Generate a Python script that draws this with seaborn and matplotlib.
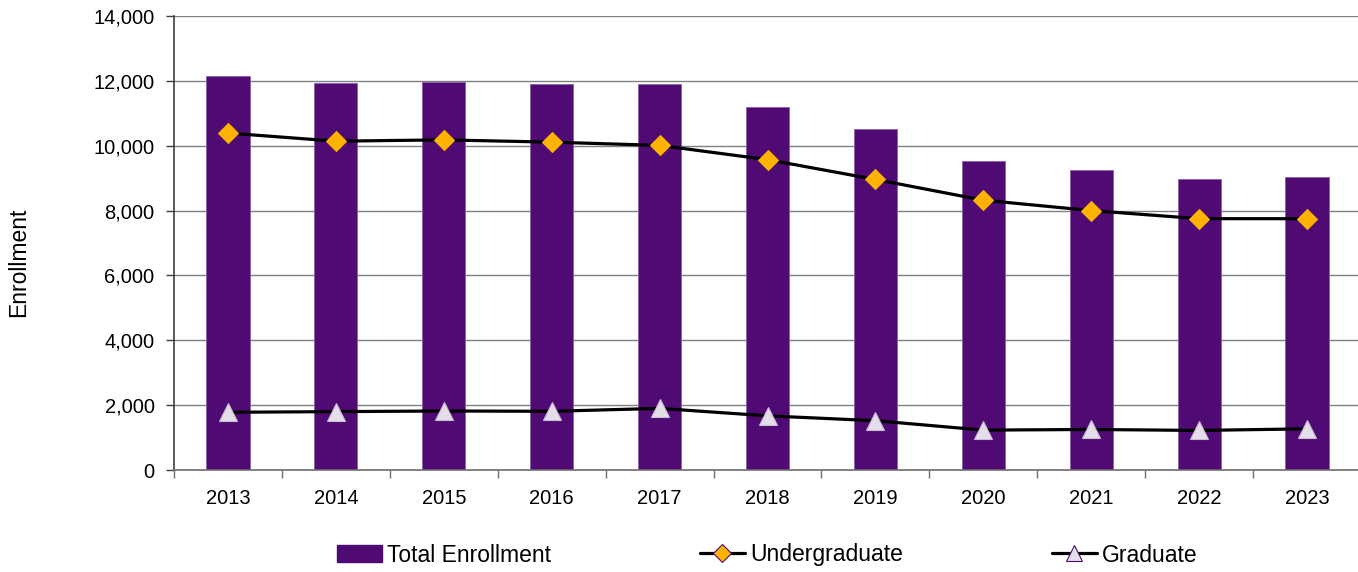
import numpy as np
import pandas as pd
import matplotlib
matplotlib.use("Agg")
import matplotlib.pyplot as plt
import seaborn as sns
from matplotlib.ticker import FuncFormatter, FixedLocator
from matplotlib.lines import Line2D
from matplotlib.patches import Patch

# data
years = ['2013', '2014', '2015', '2016', '2017', '2018', '2019', '2020', '2021', '2022', '2023']
total = [12160, 11925, 11970, 11900, 11900, 11200, 10500, 9520, 9240, 8960, 9030]
undergrad = [10390, 10140, 10180, 10110, 10010, 9570, 8960, 8320, 8000, 7750, 7750]
graduate = [1780, 1800, 1820, 1810, 1900, 1670, 1520, 1230, 1250, 1220, 1270]

purple = '#500A73'
gold = '#FFB300'
lilac = '#E4DEE8'

sns.set_style('white')
plt.rcParams['font.family'] = ['Liberation Sans', 'DejaVu Sans']
plt.rcParams['text.color'] = 'black'
plt.rcParams['axes.labelcolor'] = 'black'
plt.rcParams['xtick.color'] = 'black'
plt.rcParams['ytick.color'] = 'black'

df = pd.DataFrame({'Year': years, 'Total': total, 'Undergraduate': undergrad, 'Graduate': graduate})

fig = plt.figure(figsize=(13.58, 5.72), dpi=100)
ax = fig.add_axes([174 / 1358, 1 - 470 / 572, 1187 / 1358, 454 / 572])

# bars for total enrollment
sns.barplot(data=df, x='Year', y='Total', color=purple, saturation=1, width=0.4,
            edgecolor='#8A62A8', linewidth=0.6, ax=ax, zorder=2)

# lines (x = category position)
pos = np.arange(len(years))
sns.lineplot(x=pos, y=df['Undergraduate'], color='black', linewidth=2.3, marker='D',
             markersize=10.5, markerfacecolor=gold, markeredgecolor=gold, ax=ax, zorder=4)
sns.lineplot(x=pos, y=df['Graduate'], color='black', linewidth=2.3, marker='^',
             markersize=13.5, markerfacecolor=lilac, markeredgecolor='#C9BCD4',
             markeredgewidth=0.8, ax=ax, zorder=4)

ax.set_xlim(-0.5, len(years) - 0.5)
ax.set_ylim(0, 14000)
ax.set_yticks(np.arange(0, 14001, 2000))
ax.yaxis.set_major_formatter(FuncFormatter(lambda v, p: f'{int(v):,}'))
ax.grid(axis='y', color='#808080', linewidth=1, zorder=0)
ax.set_axisbelow(True)

for s in ['top', 'right']:
    ax.spines[s].set_visible(False)
ax.spines['left'].set_color('#404040')
ax.spines['left'].set_linewidth(1.2)
ax.spines['bottom'].set_color('#707070')
ax.spines['bottom'].set_linewidth(1.2)

ax.tick_params(axis='y', which='major', direction='out', length=6, width=1, color='#404040',
               pad=8, labelsize=14.5, left=True, labelcolor='black')
ax.tick_params(axis='x', which='major', length=0, pad=14, labelsize=14.5, labelcolor='black')
ax.xaxis.set_minor_locator(FixedLocator(np.arange(-0.5, len(years), 1)))
ax.tick_params(axis='x', which='minor', direction='out', length=6, width=1, color='#707070', bottom=True)

ax.set_xlabel('')
ax.set_ylabel('Enrollment', fontsize=16.5, color='black')
ax.yaxis.set_label_coords(-0.121, 0.458)

handles = [
    Patch(facecolor=purple, edgecolor=purple),
    Line2D([0], [0], color='black', linewidth=2.3, marker='D', markersize=9.5,
           markerfacecolor=gold, markeredgecolor=purple, markeredgewidth=0.8),
    Line2D([0], [0], color='black', linewidth=2.3, marker='^', markersize=12,
           markerfacecolor=lilac, markeredgecolor=purple, markeredgewidth=0.8),
]
labels = ['Total Enrollment', 'Undergraduate', 'Graduate']
fig.legend(handles, labels, loc='center', bbox_to_anchor=(767 / 1358, 1 - 555 / 572), ncol=3,
           frameon=False, fontsize=16.5, handlelength=1.97, handletextpad=0.22, columnspacing=6.5,
           handleheight=0.8, labelcolor='black')

fig.savefig('out.png', dpi=100)
